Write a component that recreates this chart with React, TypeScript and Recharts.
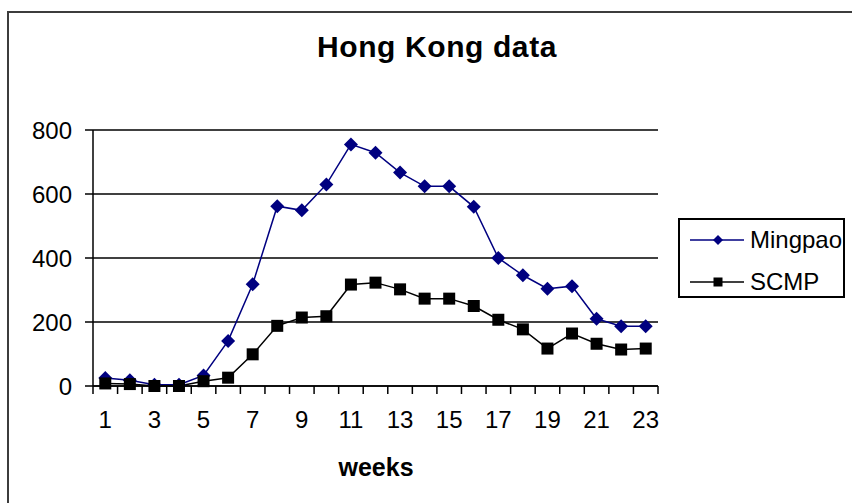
import { LineChart, Line, XAxis, YAxis, CartesianGrid } from "recharts";

const weeks = [1, 2, 3, 4, 5, 6, 7, 8, 9, 10, 11, 12, 13, 14, 15, 16, 17, 18, 19, 20, 21, 22, 23];
const mingpao = [25, 18, 4, 4, 33, 141, 318, 562, 549, 630, 755, 729, 667, 624, 624, 560, 400, 346, 304, 312, 210, 187, 187];
const scmp = [8, 6, 0, 0, 15, 26, 99, 188, 214, 218, 317, 323, 302, 273, 273, 250, 207, 177, 117, 164, 132, 114, 117];
const yTicks = [0, 200, 400, 600, 800];
const seriesNames = ["Mingpao", "SCMP"];
const seriesColors = ["#000080", "#000000"];

const data = weeks.map((w, i) => ({ week: w, Mingpao: mingpao[i], SCMP: scmp[i] }));

const FONT = "'Liberation Sans', Arial, sans-serif";
const W = 852;
const H = 503;
const PLOT_LEFT = 93;
const PLOT_RIGHT = 658;
const PLOT_TOP = 130;
const PLOT_BOTTOM = 386;
const BAND = (PLOT_RIGHT - PLOT_LEFT) / weeks.length;

function WeekTick({ x, y, payload }: any) {
  const v = payload.value;
  const last = v === weeks[weeks.length - 1];
  return (
    <g>
      <line x1={x - BAND / 2} x2={x - BAND / 2} y1={y} y2={y + 8} stroke="#000" strokeWidth={1.5} />
      {last && <line x1={x + BAND / 2} x2={x + BAND / 2} y1={y} y2={y + 8} stroke="#000" strokeWidth={1.5} />}
      {v % 2 === 1 && (
        <text x={x} y={y + 42} textAnchor="middle" fontSize={24} fontFamily={FONT} fill="#000">
          {v}
        </text>
      )}
    </g>
  );
}

function Diamond({ cx, cy, r = 7, color = "#000080" }: any) {
  if (cx == null || cy == null) return null;
  return <polygon points={`${cx},${cy - r} ${cx + r},${cy} ${cx},${cy + r} ${cx - r},${cy}`} fill={color} />;
}

function Square({ cx, cy, s = 6, color = "#000" }: any) {
  if (cx == null || cy == null) return null;
  return <rect x={cx - s} y={cy - s} width={s * 2} height={s * 2} fill={color} />;
}

function LegendBox() {
  return (
    <div
      style={{
        position: "absolute",
        left: 678,
        top: 218,
        width: 163,
        height: 76,
        border: "2px solid #000",
        fontFamily: FONT,
        fontSize: 24,
      }}
    >
      {seriesNames.map((name, i) => (
        <div key={name} style={{ position: "absolute", left: 8, top: i === 0 ? 6 : 48, height: 28, display: "flex", alignItems: "center" }}>
          <svg width={58} height={20}>
            <line x1={2} x2={56} y1={10} y2={10} stroke={seriesColors[i]} strokeWidth={1.5} />
            {i === 0 ? <Diamond cx={30} cy={10} r={5} color={seriesColors[i]} /> : <Square cx={30} cy={10} s={4.5} color={seriesColors[i]} />}
          </svg>
          <span style={{ marginLeft: 4, lineHeight: "28px" }}>{name}</span>
        </div>
      ))}
    </div>
  );
}

export default function App() {
  return (
    <div style={{ position: "absolute", left: 0, top: 0, width: W, height: H, overflow: "hidden", background: "#fff" }}>
      <div style={{ position: "absolute", left: 7, top: 11, width: W + 20, height: H + 20, borderLeft: "2px solid #3c3c3c", borderTop: "2px solid #3c3c3c" }} />
      <div
        style={{
          position: "absolute",
          left: 237,
          top: 32,
          width: 400,
          textAlign: "center",
          fontFamily: FONT,
          fontWeight: "bold",
          fontSize: 30,
          lineHeight: "30px",
          letterSpacing: 0.6,
        }}
      >
        Hong Kong data
      </div>
      <div style={{ position: "absolute", left: 0, top: 0 }}>
        <LineChart
          width={W}
          height={H}
          data={data}
          margin={{ top: PLOT_TOP, right: W - PLOT_RIGHT, left: 0, bottom: 0 }}
        >
          <CartesianGrid vertical={false} stroke="#000" strokeWidth={1.5} />
          <XAxis
            dataKey="week"
            type="number"
            domain={[0.5, weeks.length + 0.5]}
            ticks={weeks}
            interval={0}
            height={H - PLOT_BOTTOM}
            tickSize={0}
            tickMargin={0}
            tickLine={false}
            axisLine={{ stroke: "#000", strokeWidth: 1.5 }}
            tick={<WeekTick />}
          />
          <YAxis
            domain={[0, 800]}
            ticks={yTicks}
            width={PLOT_LEFT}
            tickSize={8}
            tickMargin={13}
            axisLine={{ stroke: "#000", strokeWidth: 1.5 }}
            tickLine={{ stroke: "#000", strokeWidth: 1.5 }}
            tick={{ fill: "#000", fontSize: 24, fontFamily: FONT }}
          />
          <Line
            dataKey="Mingpao"
            stroke={seriesColors[0]}
            strokeWidth={1.5}
            isAnimationActive={false}
            dot={(p: any) => <Diamond key={`m${p.index}`} cx={p.cx} cy={p.cy} r={7} color={seriesColors[0]} />}
          />
          <Line
            dataKey="SCMP"
            stroke={seriesColors[1]}
            strokeWidth={1.5}
            isAnimationActive={false}
            dot={(p: any) => <Square key={`s${p.index}`} cx={p.cx} cy={p.cy} s={6} color={seriesColors[1]} />}
          />
        </LineChart>
      </div>
      <div
        style={{
          position: "absolute",
          left: 276,
          top: 455,
          width: 200,
          textAlign: "center",
          fontFamily: FONT,
          fontWeight: "bold",
          fontSize: 25,
          lineHeight: "25px",
        }}
      >
        weeks
      </div>
      <LegendBox />
    </div>
  );
}
